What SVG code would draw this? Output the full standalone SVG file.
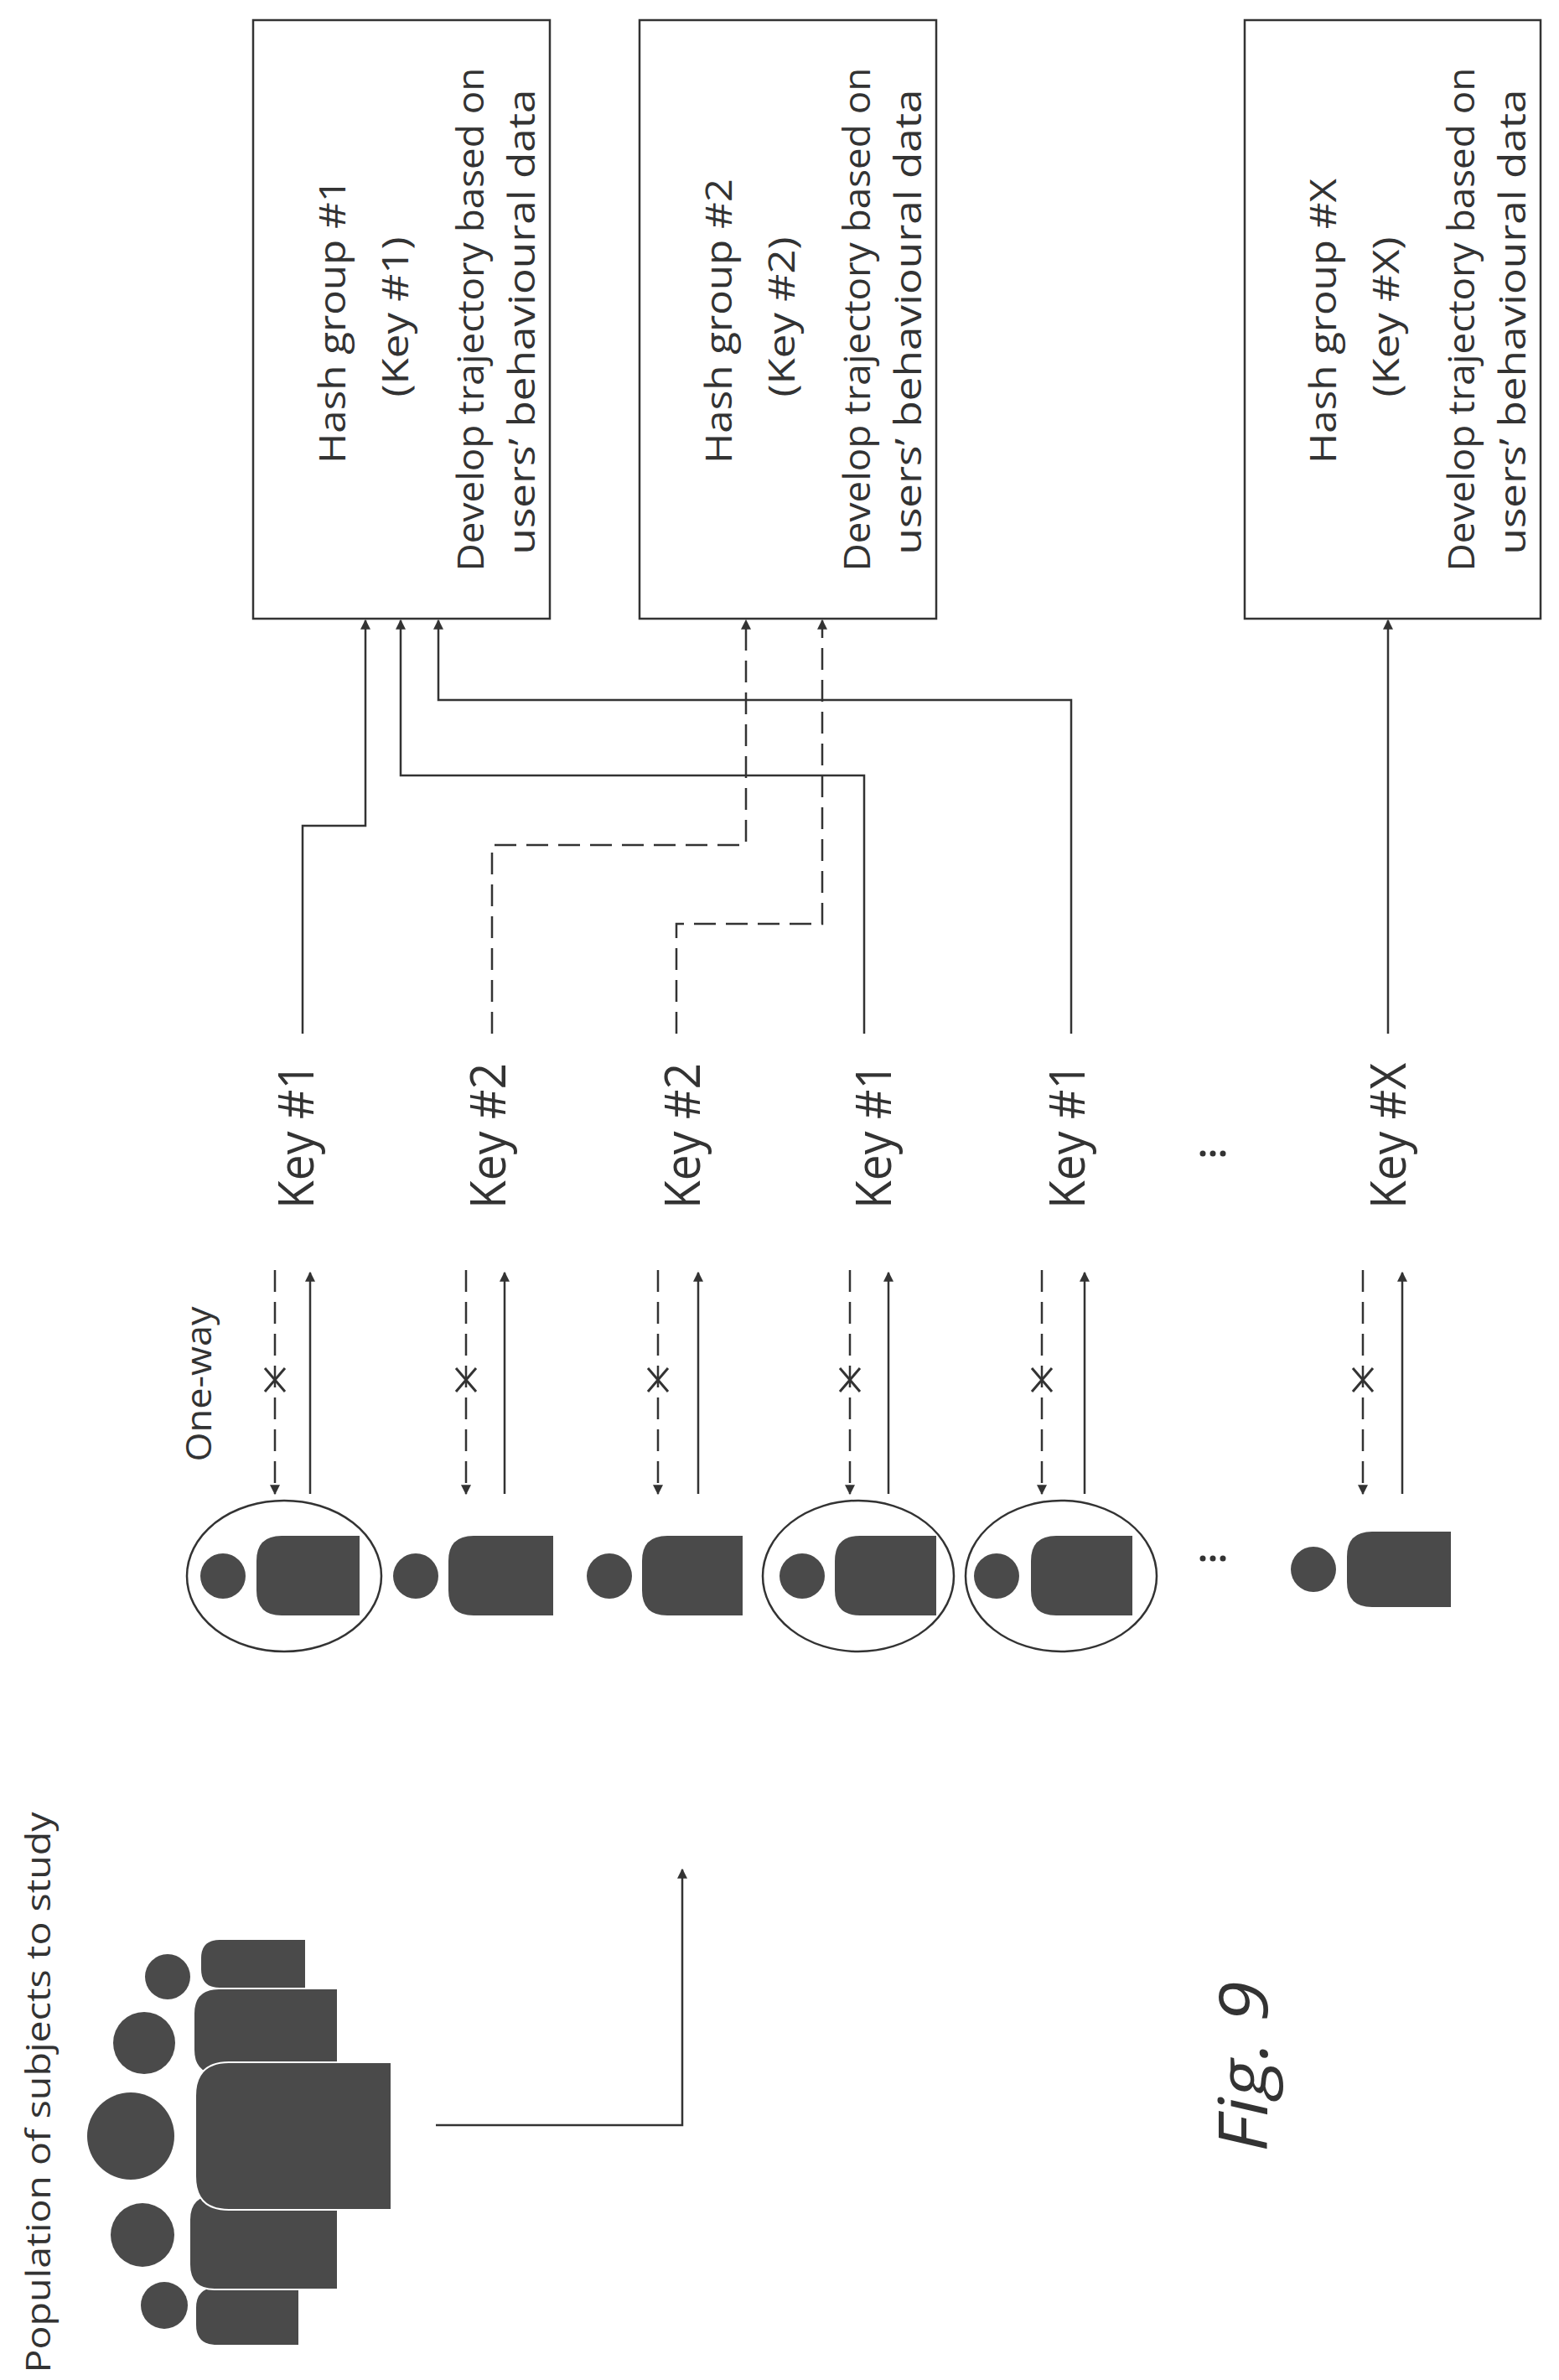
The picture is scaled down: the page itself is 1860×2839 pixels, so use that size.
<svg xmlns="http://www.w3.org/2000/svg" width="1860" height="2839" viewBox="0 0 1860 2839">
<style>
.box{fill:#fff;stroke:#333;stroke-width:2.5}
.t{font-family:"Open Sans","Liberation Sans",sans-serif;fill:#333;text-anchor:middle}
.bt{font-size:44px}
.kt{font-size:58px}
.ln{fill:none;stroke:#333;stroke-width:2.5}
.ds{stroke-dasharray:26 12}
.fig{fill:#4a4a4a}
.ring{fill:none;stroke:#333;stroke-width:2.5}
</style>
<defs>
<marker id="ah" viewBox="0 0 10 10" refX="9" refY="5" markerWidth="12" markerHeight="12" markerUnits="userSpaceOnUse" orient="auto"><path d="M0,0 L10,5 L0,10 Z" fill="#333"/></marker>
</defs>

<g id="box1">
<rect class="box" x="302" y="24" width="354" height="714"/>
<text class="t bt" transform="translate(412,383) rotate(-90)" textLength="340" lengthAdjust="spacingAndGlyphs">Hash group #1</text>
<text class="t bt" transform="translate(487,378) rotate(-90)" textLength="191" lengthAdjust="spacingAndGlyphs">(Key #1)</text>
<text class="t bt" transform="translate(577,381) rotate(-90)" textLength="601" lengthAdjust="spacingAndGlyphs">Develop trajectory based on</text>
<text class="t bt" transform="translate(638,384) rotate(-90)" textLength="555" lengthAdjust="spacingAndGlyphs">users’ behavioural data</text>
</g>
<g id="box2">
<rect class="box" x="763" y="24" width="354" height="714"/>
<text class="t bt" transform="translate(873,383) rotate(-90)" textLength="340" lengthAdjust="spacingAndGlyphs">Hash group #2</text>
<text class="t bt" transform="translate(948,378) rotate(-90)" textLength="191" lengthAdjust="spacingAndGlyphs">(Key #2)</text>
<text class="t bt" transform="translate(1038,381) rotate(-90)" textLength="601" lengthAdjust="spacingAndGlyphs">Develop trajectory based on</text>
<text class="t bt" transform="translate(1099,384) rotate(-90)" textLength="555" lengthAdjust="spacingAndGlyphs">users’ behavioural data</text>
</g>
<g id="boxX">
<rect class="box" x="1485" y="24" width="353" height="714"/>
<text class="t bt" transform="translate(1594,383) rotate(-90)" textLength="340" lengthAdjust="spacingAndGlyphs">Hash group #X</text>
<text class="t bt" transform="translate(1669,378) rotate(-90)" textLength="191" lengthAdjust="spacingAndGlyphs">(Key #X)</text>
<text class="t bt" transform="translate(1759,381) rotate(-90)" textLength="601" lengthAdjust="spacingAndGlyphs">Develop trajectory based on</text>
<text class="t bt" transform="translate(1820,384) rotate(-90)" textLength="555" lengthAdjust="spacingAndGlyphs">users’ behavioural data</text>
</g>

<g id="keys">
<text class="t kt" transform="translate(374,1355) rotate(-90)" textLength="174" lengthAdjust="spacingAndGlyphs">Key #1</text>
<text class="t kt" transform="translate(603,1355) rotate(-90)" textLength="174" lengthAdjust="spacingAndGlyphs">Key #2</text>
<text class="t kt" transform="translate(835,1355) rotate(-90)" textLength="174" lengthAdjust="spacingAndGlyphs">Key #2</text>
<text class="t kt" transform="translate(1063,1355) rotate(-90)" textLength="174" lengthAdjust="spacingAndGlyphs">Key #1</text>
<text class="t kt" transform="translate(1294,1355) rotate(-90)" textLength="174" lengthAdjust="spacingAndGlyphs">Key #1</text>
<text class="t kt" transform="translate(1677,1355) rotate(-90)" textLength="174" lengthAdjust="spacingAndGlyphs">Key #X</text>
<circle cx="1435" cy="1376" r="3.5" fill="#333"/><circle cx="1447" cy="1376" r="3.5" fill="#333"/><circle cx="1459" cy="1376" r="3.5" fill="#333"/>
</g>

<g id="connectors">
<path class="ln" d="M361,1233 V985 H436 V740" marker-end="url(#ah)"/>
<path class="ln ds" d="M587,1233 V1008 H890 V740" marker-end="url(#ah)"/>
<path class="ln ds" d="M807,1233 V1102 H981 V740" marker-end="url(#ah)"/>
<path class="ln" d="M1031,1233 V925 H478 V740" marker-end="url(#ah)"/>
<path class="ln" d="M1278,1233 V835 H523 V740" marker-end="url(#ah)"/>
<path class="ln" d="M1656,1233 V740" marker-end="url(#ah)"/>
<path class="ln" d="M520,2535 H814 V2230" marker-end="url(#ah)"/>
</g>

<g id="oneway">
<text class="t" font-size="42" transform="translate(252,1651) rotate(-90)" textLength="185" lengthAdjust="spacingAndGlyphs">One-way</text>
<g id="arrows">
<path class="ln ds" d="M328,1515 V1782" marker-end="url(#ah)"/><path class="ln" d="M370,1782 V1518" marker-end="url(#ah)"/>
<path class="ln ds" d="M556,1515 V1782" marker-end="url(#ah)"/><path class="ln" d="M602,1782 V1518" marker-end="url(#ah)"/>
<path class="ln ds" d="M785,1515 V1782" marker-end="url(#ah)"/><path class="ln" d="M833,1782 V1518" marker-end="url(#ah)"/>
<path class="ln ds" d="M1014,1515 V1782" marker-end="url(#ah)"/><path class="ln" d="M1060,1782 V1518" marker-end="url(#ah)"/>
<path class="ln ds" d="M1243,1515 V1782" marker-end="url(#ah)"/><path class="ln" d="M1294,1782 V1518" marker-end="url(#ah)"/>
<path class="ln ds" d="M1626,1515 V1782" marker-end="url(#ah)"/><path class="ln" d="M1673,1782 V1518" marker-end="url(#ah)"/>
</g>
<g id="xmarks" stroke="#333" stroke-width="3">
<path d="M316,1632 L340,1660 M340,1632 L316,1660"/>
<path d="M544,1632 L568,1660 M568,1632 L544,1660"/>
<path d="M773,1632 L797,1660 M797,1632 L773,1660"/>
<path d="M1002,1632 L1026,1660 M1026,1632 L1002,1660"/>
<path d="M1231,1632 L1255,1660 M1255,1632 L1231,1660"/>
<path d="M1614,1632 L1638,1660 M1638,1632 L1614,1660"/>
</g>
</g>

<g id="persons">
<g id="p1"><ellipse class="ring" cx="339" cy="1880" rx="116" ry="90"/><circle class="fig" cx="266" cy="1880" r="27"/><path class="fig" d="M336,1832 H429 V1927 H336 Q306,1927 306,1897 V1862 Q306,1832 336,1832 Z"/></g>
<g id="p2"><circle class="fig" cx="496" cy="1880" r="27"/><path class="fig" d="M565,1832 H660 V1927 H565 Q535,1927 535,1897 V1862 Q535,1832 565,1832 Z"/></g>
<g id="p3"><circle class="fig" cx="727" cy="1880" r="27"/><path class="fig" d="M796,1832 H886 V1927 H796 Q766,1927 766,1897 V1862 Q766,1832 796,1832 Z"/></g>
<g id="p4"><ellipse class="ring" cx="1024" cy="1880" rx="114" ry="90"/><circle class="fig" cx="957" cy="1880" r="27"/><path class="fig" d="M1026,1832 H1117 V1927 H1026 Q996,1927 996,1897 V1862 Q996,1832 1026,1832 Z"/></g>
<g id="p5"><ellipse class="ring" cx="1266" cy="1880" rx="114" ry="90"/><circle class="fig" cx="1189" cy="1880" r="27"/><path class="fig" d="M1260,1832 H1351 V1927 H1260 Q1230,1927 1230,1897 V1862 Q1230,1832 1260,1832 Z"/></g>
<circle cx="1435" cy="1859" r="3.5" fill="#333"/><circle cx="1447" cy="1859" r="3.5" fill="#333"/><circle cx="1459" cy="1859" r="3.5" fill="#333"/>
<g id="pX"><circle class="fig" cx="1567" cy="1872" r="27"/><path class="fig" d="M1637,1827 H1731 V1917 H1637 Q1607,1917 1607,1887 V1857 Q1607,1827 1637,1827 Z"/></g>
</g>

<g id="population">
<text class="t" font-size="40" transform="translate(60,2496) rotate(-90)" textLength="669" lengthAdjust="spacingAndGlyphs">Population of subjects to study</text>
<circle class="fig" cx="200" cy="2358" r="27"/>
<circle class="fig" cx="172" cy="2437" r="37"/>
<circle class="fig" cx="156" cy="2548" r="52"/>
<circle class="fig" cx="170" cy="2666" r="38"/>
<circle class="fig" cx="196" cy="2750" r="28"/>
<path class="fig" stroke="#fff" stroke-width="2" d="M262,2313 H365 V2372 H262 Q239,2372 239,2349 V2336 Q239,2313 262,2313 Z"/>
<path class="fig" stroke="#fff" stroke-width="2" d="M258,2728 H357 V2798 H258 Q233,2798 233,2773 V2753 Q233,2728 258,2728 Z"/>
<path class="fig" stroke="#fff" stroke-width="2" d="M261,2372 H403 V2475 H261 Q231,2475 231,2445 V2402 Q231,2372 261,2372 Z"/>
<path class="fig" stroke="#fff" stroke-width="2" d="M256,2618 H403 V2731 H256 Q226,2731 226,2701 V2648 Q226,2618 256,2618 Z"/>
<path class="fig" fill="#3a3a3a" stroke="#fff" stroke-width="2" d="M273,2460 H467 V2636 H273 Q233,2636 233,2596 V2500 Q233,2460 273,2460 Z"/>
</g>

<g id="caption">
<text class="t" font-size="80" font-style="italic" transform="translate(1512,2465) rotate(-90)" textLength="204" lengthAdjust="spacingAndGlyphs">Fig. 9</text>
</g>
</svg>
